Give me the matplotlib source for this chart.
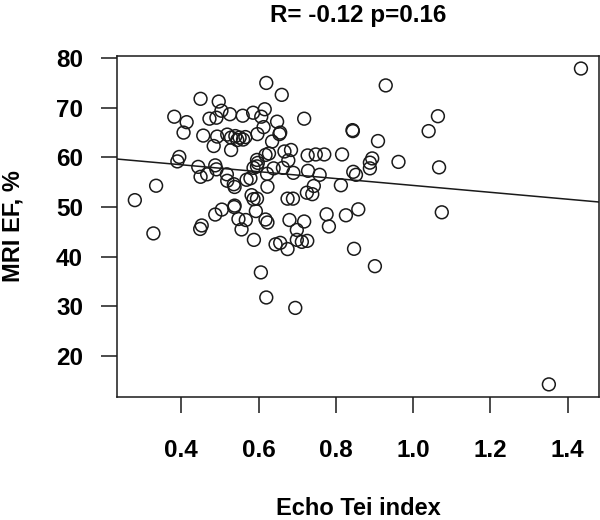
import numpy as np
import matplotlib
matplotlib.use('Agg')
import matplotlib.pyplot as plt

# echo Tei index vs MRI EF
tei = [0.620, 0.660, 0.450, 0.497, 0.504, 0.526, 0.559, 0.586, 0.616, 0.607,
       0.473, 0.491, 0.382, 0.414, 0.406, 0.457, 0.493,
       0.519, 0.529, 0.540, 0.551, 0.560, 0.566, 0.545,
       0.597, 0.613, 0.648, 0.656, 0.654, 0.635, 0.484, 0.529, 0.627, 0.618,
       0.667, 0.684, 0.677, 0.718, 0.727, 0.748, 0.770, 0.816, 0.843, 0.844,
       0.395, 0.390, 0.444, 0.488, 0.491, 0.450, 0.467, 0.518, 0.519, 0.536,
       0.538, 0.596, 0.598, 0.596, 0.587, 0.622, 0.639, 0.663, 0.690, 0.728,
       0.758, 0.813, 0.845, 0.852, 0.569, 0.579, 0.623, 0.335, 0.280, 0.743,
       0.725, 0.739, 0.675, 0.689, 0.582, 0.587, 0.596, 0.538, 0.537, 0.593,
       0.505, 0.488, 0.548, 0.567, 0.618, 0.623, 0.680, 0.718, 0.776, 0.826,
       0.858, 0.453, 0.449, 0.328, 0.556, 0.588, 0.606, 0.620, 0.695, 0.644,
       0.656, 0.675, 0.699, 0.699, 0.712, 0.726, 0.782, 0.847,
       1.434, 0.929, 1.064, 1.040, 0.909, 0.894, 0.888, 0.888, 0.962, 1.067,
       1.074, 0.901, 1.351]
ef = [75.0, 72.6, 71.8, 71.25, 69.4, 68.7, 68.4, 69.0, 69.7, 68.2,
      67.8, 68.0, 68.2, 67.1, 65.0, 64.4, 64.2,
      64.6, 64.0, 64.3, 64.0, 63.6, 64.1, 63.5,
      64.7, 66.1, 67.2, 65.0, 64.7, 63.2, 62.3, 61.5, 60.8, 60.5,
      61.2, 61.5, 59.4, 67.8, 60.4, 60.6, 60.6, 60.6, 65.5, 65.3,
      60.1, 59.2, 58.1, 58.4, 57.6, 56.1, 56.6, 56.6, 55.3, 54.6,
      54.05, 59.5, 58.9, 58.2, 57.9, 56.7, 57.8, 57.9, 56.9, 57.3,
      56.5, 54.4, 57.1, 56.5, 55.5, 55.8, 54.1, 54.3, 51.4, 54.25,
      52.9, 52.6, 51.7, 51.7, 52.4, 51.6, 51.7, 50.3, 50.0, 49.2,
      49.5, 48.5, 47.6, 47.4, 47.5, 46.9, 47.4, 47.1, 48.55, 48.35,
      49.55, 46.3, 45.6, 44.7, 45.5, 43.4, 36.85, 31.8, 29.7, 42.5,
      42.8, 41.55, 45.4, 43.4, 43.0, 43.2, 46.1, 41.6,
      77.9, 74.5, 68.3, 65.3, 63.3, 59.8, 58.95, 57.8, 59.1, 58.0,
      48.95, 38.1, 14.3]

# regression line as drawn in the figure
line_intercept = 61.3
line_slope = -6.94

x_ticks = [0.4, 0.6, 0.8, 1.0, 1.2, 1.4]
x_tick_labels = ['0.4', '0.6', '0.8', '1.0', '1.2', '1.4']
y_ticks = [20, 30, 40, 50, 60, 70, 80]

plt.rcParams['font.family'] = ['Liberation Sans', 'DejaVu Sans']
plt.rcParams['font.weight'] = 'bold'

fig = plt.figure(figsize=(6, 5.2), dpi=100)
ax = fig.add_axes([0.195, 0.2365, 0.803, 0.656])

x = np.array(tei)
y = np.array(ef)
ax.scatter(x, y, s=85, facecolors='none', edgecolors='#1a1a1a', linewidths=1.1, zorder=3)
ax.axline((0, line_intercept), slope=line_slope, color='#1a1a1a', lw=1.1, zorder=2)

# R style 4% padding
xr = x.max() - x.min()
yr = y.max() - y.min()
ax.set_xlim(x.min() - 0.04 * xr, x.max() + 0.04 * xr)
ax.set_ylim(y.min() - 0.04 * yr, y.max() + 0.04 * yr)

ax.set_xticks(x_ticks)
ax.set_xticklabels(x_tick_labels)
ax.set_yticks(y_ticks)
ax.tick_params(axis='both', direction='out', length=11.5, width=1.1, color='#1a1a1a',
               labelsize=17.5)
ax.tick_params(axis='x', pad=19)
ax.tick_params(axis='y', pad=13)
for sp in ax.spines.values():
    sp.set_linewidth(1.1)
    sp.set_color('#1a1a1a')

ax.set_title('R= -0.12 p=0.16', fontsize=17.5, fontweight='bold', y=1.10, pad=0)

ax.set_xlabel('Echo Tei index', fontsize=17, fontweight='bold', va='top')
ax.xaxis.set_label_coords(0.5, -0.292)
ax.set_ylabel('MRI EF, %', fontsize=17, fontweight='bold', va='center')
ax.yaxis.set_label_coords(-0.215, 0.5)

fig.savefig('out.png', dpi=100)
